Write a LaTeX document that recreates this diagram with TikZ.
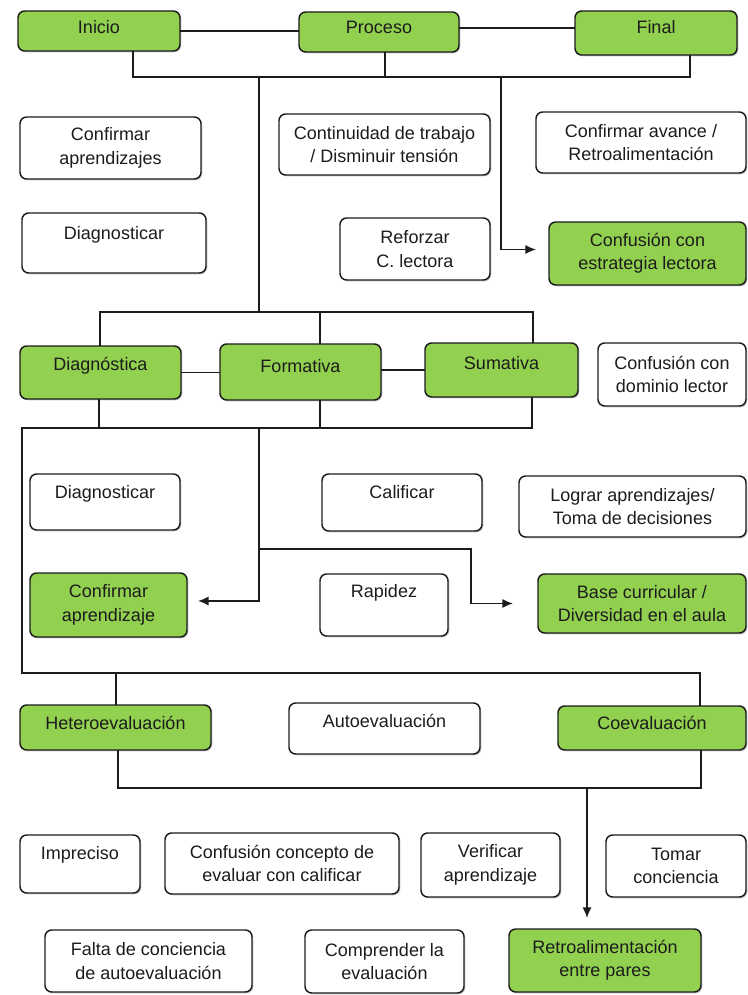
\documentclass[tikz,border=0pt]{standalone}
\usepackage{fontspec}
\setmainfont{Liberation Sans}
\usetikzlibrary{arrows.meta,shadows,calc}
\definecolor{leaf}{RGB}{146,208,80}
\definecolor{ink}{RGB}{28,28,28}

\tikzset{
  card/.style={draw=ink, line width=1.1pt, rounded corners=5pt, align=center,
    text=ink, font=\fontsize{13.5}{17.5}\selectfont, inner sep=0pt, outer sep=0pt,
    drop shadow={shadow xshift=1pt, shadow yshift=-1pt, opacity=0.22, fill=black}},
  plain/.style={card, fill=white},
  hilite/.style={card, fill=leaf},
  lift/.style={text height=0.72em, text depth=#1},
  link/.style={draw=ink, line width=1.3pt},
  arr/.style={link, -{Latex[length=8pt,width=7pt]}},
}

% \cardbox{name}{x1}{y1}{x2}{y2}{style}{text}, corners in pixel units
\newcommand\cardbox[7]{%
  \node[#6, minimum width={(#4-#2)*0.75pt}, minimum height={(#5-#3)*0.75pt}]
    (#1) at ({(#2+#4)/2},{(#3+#5)/2}) {#7};}

\begin{document}
\begin{tikzpicture}[x=0.75pt, y=-0.75pt]
\useasboundingbox (0,0) rectangle (748,995);

% ---- moments ----
\cardbox{inicio}{18}{11}{180}{51}{hilite,lift=3pt}{Inicio}
\cardbox{proceso}{299}{12}{459}{52}{hilite,lift=4.5pt}{Proceso}
\cardbox{final}{575}{11}{737}{55}{hilite,lift=6pt}{Final}

\cardbox{confap}{20}{117}{201}{179}{plain}{Confirmar\\aprendizajes}
\cardbox{contin}{279}{114}{490}{175}{plain}{Continuidad de trabajo\\/ Disminuir tensión}
\cardbox{confav}{536}{112}{746}{173}{plain}{Confirmar avance /\\Retroalimentación}
\cardbox{diagA}{22}{213}{206}{273}{plain,lift=12pt}{Diagnosticar}
\cardbox{reforzar}{340}{218}{490}{280}{plain}{Reforzar\\C. lectora}
\cardbox{confest}{549}{222}{746}{285}{hilite}{Confusión con\\estrategia lectora}

% ---- types ----
\cardbox{diagnostica}{20}{346}{181}{399}{hilite,lift=10.5pt}{Diagnóstica}
\cardbox{formativa}{220}{344}{381}{400}{hilite,lift=6pt}{Formativa}
\cardbox{sumativa}{425}{343}{578}{397}{hilite,lift=7.5pt}{Sumativa}
\cardbox{confdom}{598}{343}{746}{406}{plain}{Confusión con\\dominio lector}

\cardbox{diagB}{30}{474}{180}{530}{plain,lift=12pt}{Diagnosticar}
\cardbox{calificar}{322}{474}{482}{531}{plain,lift=13.5pt}{Calificar}
\cardbox{lograr}{519}{476}{746}{537}{plain}{Lograr aprendizajes/\\Toma de decisiones}
\cardbox{confapB}{30}{573}{187}{637}{hilite}{Confirmar\\aprendizaje}
\cardbox{rapidez}{320}{574}{448}{636}{plain,lift=18pt}{Rapidez}
\cardbox{base}{538}{574}{746}{633}{hilite}{Base curricular /\\Diversidad en el aula}

% ---- agents ----
\cardbox{hetero}{20}{705}{211}{750}{hilite,lift=4.5pt}{Heteroevaluación}
\cardbox{auto}{289}{703}{480}{754}{plain,lift=9pt}{Autoevaluación}
\cardbox{coev}{558}{706}{746}{750}{hilite,lift=4.5pt}{Coevaluación}

\cardbox{impreciso}{20}{835}{140}{893}{plain,lift=13.5pt}{Impreciso}
\cardbox{confcon}{165}{833}{399}{894}{plain}{Confusión concepto de\\evaluar con calificar}
\cardbox{verificar}{421}{833}{560}{897}{plain}{Verificar\\aprendizaje}
\cardbox{tomar}{606}{835}{746}{897}{plain}{Tomar\\conciencia}
\cardbox{falta}{45}{930}{252}{992}{plain}{Falta de conciencia\\de autoevaluación}
\cardbox{comprender}{305}{930}{464}{993}{plain}{Comprender la\\evaluación}
\cardbox{retro}{509}{929}{701}{992}{hilite}{Retroalimentación\\entre pares}

% ---- junction points ----
\coordinate (tbl) at (133,77);
\coordinate (tbr) at (690,77);
\coordinate (px) at (385,0);
\coordinate (stem) at (259,77);
\coordinate (side) at (501,77);
\coordinate (mbl) at (100,312);
\coordinate (mbr) at (533,312);
\coordinate (fx) at (320,0);
\coordinate (mbbl) at (99,428);
\coordinate (mbbr) at (532,428);
\coordinate (fb) at (259,428);
\coordinate (fj) at (259,549);
\coordinate (fk) at (471,549);
\coordinate (lowl) at (22,673);
\coordinate (lowr) at (700,673);
\coordinate (hx) at (116,0);
\coordinate (lbl) at (118,788);
\coordinate (lbr) at (701,788);
\coordinate (down) at (587,788);

% ---- top group ----
\draw[link] (inicio.east) -- (inicio.east -| proceso.west);
\draw[link] ([yshift=3pt]proceso.east) -- ([yshift=3pt]proceso.east -| final.west);
\draw[link] (inicio.south -| tbl) -- (tbl) -- (tbr) -- (final.south -| tbr);
\draw[link] (proceso.south -| px) -- (px |- tbl);
\draw[link] (stem) -- (stem |- mbl);
\draw[arr, shorten >=9.75pt] (side) |- ([yshift=3pt]confest.west);

% ---- middle group ----
\draw[link] (diagnostica.north -| mbl) -- (mbl) -- (mbr) -- (sumativa.north -| mbr);
\draw[link] (formativa.north -| fx) -- (fx |- mbl);
\draw[link] (diagnostica.east) -- (diagnostica.east -| formativa.west);
\draw[link] ([yshift=1.5pt]formativa.east) -- ([yshift=1.5pt]formativa.east -| sumativa.west);
\draw[link] (diagnostica.south -| mbbl) -- (mbbl) -- (mbbr) -- (sumativa.south -| mbbr);
\draw[link] (formativa.south -| fx) -- (fx |- mbbl);
\draw[arr, shorten >=8.25pt] (fb) |- ([yshift=3pt]confapB.east);
\draw[arr, shorten >=18.75pt] (fj) -- (fk) |- (base.west);

% ---- lower group ----
\draw[link] (mbbl) -| (lowl) -- (lowr) -- (coev.north -| lowr);
\draw[link] (hetero.north -| hx) -- (hx |- lowl);
\draw[link] (hetero.south -| lbl) -- (lbl) -- (lbr) -- (coev.south -| lbr);
\draw[arr, shorten >=8.25pt] (down) -- (down |- retro.north);

\end{tikzpicture}
\end{document}
